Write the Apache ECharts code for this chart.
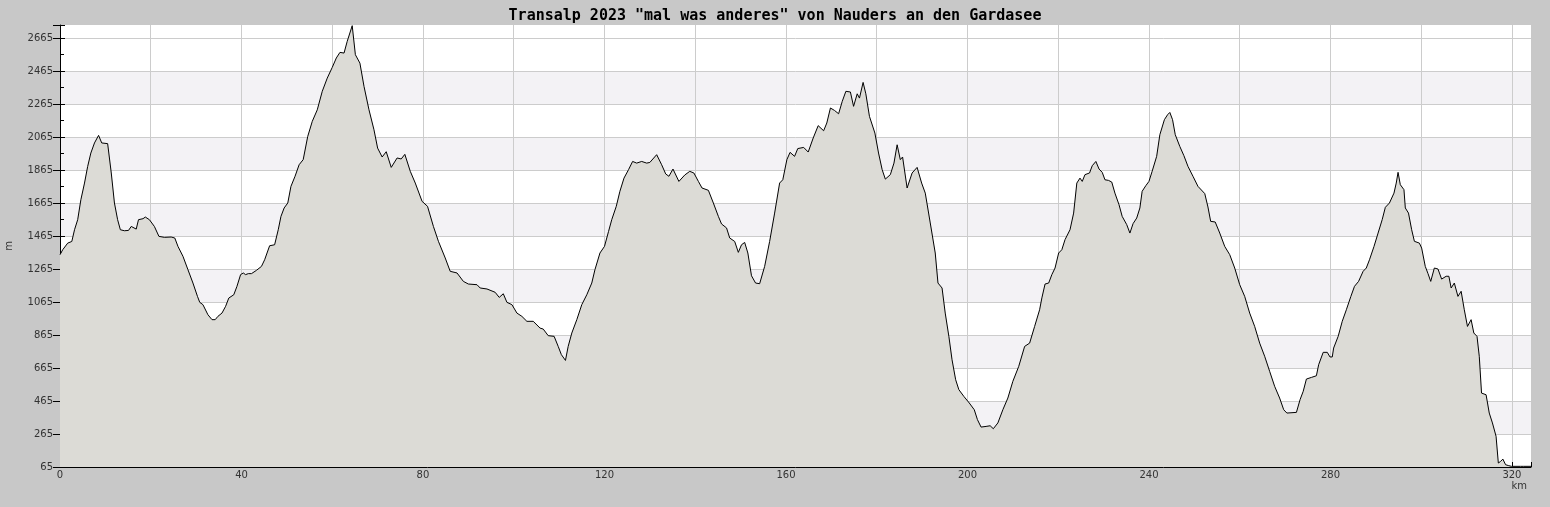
<!DOCTYPE html>
<html>
<head>
<meta charset="utf-8">
<script src="https://cdn.jsdelivr.net/npm/echarts@6/dist/echarts.min.js"></script>
<style>html,body{margin:0;padding:0;background:#c8c8c8;}#c{width:1550px;height:507px;}</style>
</head>
<body>
<div id="c"></div>
<script>
const titleText = 'Transalp 2023 "mal was anderes" von Nauders an den Gardasee';
const xName = 'km';
const yName = 'm';
const yMin = 65, yMax = 2744, yStep = 200;
const xMin = 0, xMax = 324.2, xStep = 20, xLabelStep = 40;

const km = [
 0,0.6,1.7,2.6,3.2,3.9,4.6,5.4,6.1,6.8,7.6,8.5,9.2,10.5,11.3,12.0,12.7,13.3,14.2,15.1,15.7,16.8,17.3,18.3,18.8,19.7,20.8,21.8,23.0,24.5,25.3,26.0,27.1,28.2,29.3,30.3,30.8,31.5,32.6,33.5,34.2,34.8,35.7,36.5,37.2,38.3,39.0,39.8,40.4,40.9,41.5,42.2,43.3,44.4,45.1,46.2,47.3,48.1,48.7,49.4,50.2,50.9,51.8,52.7,53.6,
 54.6,55.6,56.7,57.8,58.9,60.0,60.9,61.7,62.6,63.3,64.4,65.1,66.1,67.0,68.1,69.2,70.0,71.0,71.9,73.0,74.3,75.2,76.0,77.2,78.3,79.8,81.0,82.3,83.4,84.9,86.0,87.5,88.9,90.0,91.9,92.6,94.1,95.9,96.8,97.7,98.5,99.6,100.7,101.8,102.9,104.3,105.8,106.5,107.6,108.9,
 109.8,110.5,111.4,112.0,112.8,113.9,115.0,116.1,117.2,117.9,119.0,120.0,120.9,121.6,122.6,123.4,124.3,125.3,126.2,127.1,128.2,129.3,130.0,131.5,132.6,133.5,134.2,135.1,136.4,137.7,138.8,139.7,140.7,141.5,142.9,144.0,145.1,145.8,146.9,147.6,148.7,149.5,150.2,150.9,151.6,152.4,153.3,154.2,155.3,156.4,157.5,158.6,159.3,160.2,160.9,161.9,162.6,
 163.9,164.9,166.0,167.1,168.3,169.0,169.8,170.7,171.6,172.4,173.2,174.2,174.9,175.7,176.2,177.0,177.6,178.4,179.6,180.4,181.2,181.9,183.0,183.8,184.5,185.2,185.7,186.7,187.8,188.9,189.9,190.7,191.8,192.9,193.5,194.4,195.1,195.9,196.6,197.4,198.1,199.2,200.4,201.5,202.2,203.0,204.1,205.0,205.7,206.7,207.8,208.9,210.0,211.3,212.6,213.7,214.8,215.9,216.4,
 217.1,217.9,218.6,219.3,220.1,220.8,221.5,222.6,223.4,224.1,224.8,225.3,225.9,226.9,227.5,228.3,229.0,229.7,230.3,231.1,231.8,232.5,233.4,234.1,235.1,235.8,236.5,237.3,238.0,238.5,239.3,240.0,240.7,241.7,242.4,243.4,244.1,244.6,245.2,245.8,246.8,247.7,248.6,249.7,250.8,252.3,253.0,253.6,254.6,255.6,256.7,257.8,258.9,260.0,261.1,262.2,263.3,264.4,265.5,266.6,267.7,268.8,269.7,270.4,
 272.5,273.3,274.0,274.7,275.8,276.9,277.4,278.4,279.3,279.9,280.4,280.7,281.7,282.6,283.5,284.5,285.3,286.2,287.2,287.9,288.6,289.6,290.5,291.4,292.1,293.0,294.0,294.5,294.9,295.4,296.2,296.5,297.2,297.9,298.5,299.6,300.1,300.9,301.5,302.1,302.9,303.7,304.5,305.5,306.1,306.6,307.3,308.1,308.8,309.5,310.2,311.0,311.6,312.3,312.8,313.3,314.3,315.0,315.7,316.5,317.0,317.5,318.0,318.6,319.3,319.9,321.9,322.3,322.6,324.2
];
const elevation = [
 1352,1382,1422,1432,1503,1564,1685,1786,1887,1968,2029,2075,2029,2025,1847,1665,1564,1503,1497,1499,1523,1507,1564,1570,1580,1564,1523,1463,1457,1459,1453,1402,1342,1261,1180,1099,1063,1049,988,958,958,978,998,1039,1089,1109,1160,1231,1241,1231,1237,1237,1257,1281,1321,1406,1412,1503,1584,1635,1665,1766,1827,1897,1928,
 2069,2160,2230,2342,2422,2487,2544,2578,2574,2645,2740,2564,2513,2372,2230,2109,1998,1944,1976,1881,1938,1932,1960,1857,1786,1675,1645,1523,1433,1332,1251,1241,1190,1174,1170,1150,1144,1124,1093,1115,1063,1049,998,978,948,948,907,901,861,857,
 796,746,711,796,877,958,1049,1109,1180,1261,1362,1402,1493,1564,1645,1736,1816,1867,1917,1907,1917,1907,1911,1958,1897,1841,1827,1871,1796,1835,1857,1847,1796,1756,1742,1665,1584,1538,1514,1453,1432,1366,1412,1426,1362,1224,1180,1176,1281,1432,1604,1786,1806,1928,1972,1948,1995,
 2002,1974,2059,2134,2103,2150,2241,2226,2206,2281,2342,2338,2251,2327,2301,2396,2327,2190,2089,1968,1867,1810,1837,1907,2018,1928,1944,1756,1847,1881,1786,1725,1544,1362,1180,1150,998,857,715,594,534,493,453,412,352,307,311,315,297,332,412,483,584,675,796,816,917,1018,1090,
 1174,1180,1231,1271,1362,1382,1443,1503,1604,1786,1816,1796,1837,1847,1891,1917,1871,1851,1806,1802,1792,1725,1655,1584,1534,1483,1540,1574,1635,1736,1770,1796,1857,1948,2079,2170,2200,2214,2170,2079,2008,1952,1887,1827,1766,1722,1641,1554,1550,1483,1402,1352,1271,1170,1099,998,917,816,736,645,554,483,412,392,
 396,473,524,598,608,618,685,760,760,732,732,786,857,948,1018,1099,1160,1190,1251,1271,1321,1402,1483,1564,1639,1665,1725,1786,1851,1776,1746,1635,1604,1503,1433,1422,1392,1281,1237,1190,1271,1265,1204,1221,1221,1150,1180,1099,1130,1018,917,958,877,857,736,513,503,392,332,251,89,99,113,79,73,69,69,75,69,69
];

const points = km.map((k, i) => [k, elevation[i]]);

// alternating bands: one colour per full interval, white for the partial band above the last tick
const nBands = Math.ceil((yMax - yMin) / yStep);
const bandColors = [];
for (let i = 0; i < nBands + 1; i++) {
  const full = (yMin + (i + 1) * yStep) <= yMax;
  bandColors.push(i % 2 === 1 && full ? '#f3f2f5' : '#ffffff');
}

const chart = echarts.init(document.getElementById('c'), null, {renderer: 'canvas'});
const labelFont = {color: '#333', fontSize: 10, fontFamily: 'DejaVu Sans'};
chart.setOption({
  backgroundColor: '#c8c8c8',
  animation: false,
  title: {
    text: titleText, left: 'center', top: 4,
    textStyle: {fontFamily: 'DejaVu Sans Mono', fontWeight: 'bold', fontSize: 15, color: '#000'}
  },
  grid: {left: 60, right: 19, top: 25, bottom: 40, show: true, backgroundColor: '#ffffff', borderWidth: 0,
         containLabel: false, outerBoundsMode: 'none'},
  xAxis: {
    type: 'value', min: xMin, max: xMax, interval: xStep,
    name: xName, nameLocation: 'end', nameGap: -4,
    nameTextStyle: Object.assign({}, labelFont, {align: 'right', verticalAlign: 'top', padding: [14, 0, 0, 0]}),
    axisLine: {show: true, lineStyle: {color: '#000', width: 1}},
    axisTick: {show: true, inside: true, length: 5, lineStyle: {color: '#000'}},
    minorTick: {show: true, splitNumber: 2, length: 3, lineStyle: {color: '#000'}},
    axisLabel: Object.assign({}, labelFont, {margin: 3, showMaxLabel: false,
      formatter: v => (Math.abs(v % xLabelStep) < 1e-6 ? String(v) : '')}),
    splitLine: {show: true, showMaxLine: false, showMinLine: false, lineStyle: {color: '#cccccc', width: 1}}
  },
  yAxis: [{
    type: 'value', min: yMin, max: yMax, interval: yStep,
    name: yName, nameLocation: 'middle', nameGap: 46,
    nameTextStyle: labelFont,
    axisLine: {show: true, lineStyle: {color: '#000', width: 1}},
    axisTick: {show: true, inside: true, length: 5, lineStyle: {color: '#000'}},
    minorTick: {show: true, splitNumber: 2, length: 4, lineStyle: {color: '#000'}},
    axisLabel: Object.assign({}, labelFont, {margin: 7, showMaxLabel: false, formatter: v => String(v)}),
    splitLine: {show: true, showMaxLine: false, showMinLine: false, lineStyle: {color: '#cccccc', width: 1}},
    splitArea: {show: true, areaStyle: {color: bandColors}}
  }, {
    type: 'value', min: yMin, max: yMax, interval: yStep, position: 'left',
    axisLine: {show: false}, axisLabel: {show: false}, splitLine: {show: false},
    axisTick: {show: true, inside: false, length: 7, lineStyle: {color: '#000'}}
  }],
  series: [{
    type: 'line', data: points, yAxisIndex: 0, showSymbol: false, smooth: false,
    lineStyle: {color: '#000', width: 1},
    areaStyle: {color: '#dcdbd6', opacity: 1, origin: 'start'},
    z: 3
  }]
});
</script>
</body>
</html>
